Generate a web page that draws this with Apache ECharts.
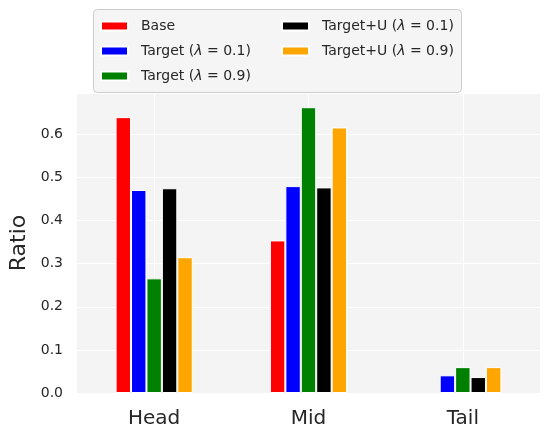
<!DOCTYPE html>
<html>
<head>
<meta charset="utf-8">
<script src="https://cdn.jsdelivr.net/npm/echarts@6/dist/echarts.min.js"></script>
<style>
  html, body { margin: 0; padding: 0; background: #fff; }
  #main { width: 557px; height: 437px; }
</style>
</head>
<body>
<div id="main"></div>
<script>
const categories = ['Head', 'Mid', 'Tail']
const seriesNames = ['Base', 'Target (λ = 0.1)', 'Target (λ = 0.9)', 'Target+U (λ = 0.1)', 'Target+U (λ = 0.9)']
const colors = ['#ff0000', '#0000ff', '#008000', '#000000', '#ffa500']
const base = [0.640, 0.354, null]
const target01 = [0.471, 0.480, 0.041]
const target09 = [0.266, 0.663, 0.060]
const targetU01 = [0.475, 0.477, 0.037]
const targetU09 = [0.315, 0.616, 0.060]
const seriesValues = [base, target01, target09, targetU01, targetU09]

const font = 'DejaVu Sans'
const chart = echarts.init(document.getElementById('main'))

// legend text with italic lambda, like the mathtext in the original
function legendLabel(name) {
  const i = name.indexOf('λ')
  if (i < 0) return '{n|' + name + '}'
  return '{n|' + name.slice(0, i) + '}{l|λ}{n|' + name.slice(i + 1) + '}'
}

// two columns of the legend, filled top to bottom
function legendColumn(left, names) {
  return {
    orient: 'vertical',
    left: left,
    top: 19,
    padding: 0,
    itemGap: 11,
    itemWidth: 27,
    itemHeight: 9,
    icon: 'rect',
    data: names,
    formatter: legendLabel,
    textStyle: {
      padding: [0, 0, 0, 8],
      rich: {
        n: { fontFamily: font, fontSize: 14, color: '#262626' },
        l: { fontFamily: font, fontSize: 14, color: '#262626', fontStyle: 'italic' }
      }
    }
  }
}

chart.setOption({
  backgroundColor: '#fff',
  textStyle: { fontFamily: font },
  graphic: [{
    type: 'rect',
    left: 93,
    top: 9,
    z: -1,
    shape: { width: 368, height: 83, r: 4 },
    style: { fill: '#f5f5f5', stroke: '#cccccc', lineWidth: 1 }
  }],
  legend: [
    legendColumn(100, seriesNames.slice(0, 3)),
    legendColumn(281, seriesNames.slice(3))
  ],
  grid: {
    left: 77,
    right: 17,
    top: 93,
    bottom: 44,
    outerBoundsMode: 'none',
    containLabel: false,
    show: true,
    backgroundColor: '#f4f4f4',
    borderWidth: 0
  },
  xAxis: {
    type: 'category',
    data: categories,
    axisLine: { show: false },
    axisTick: { show: false, alignWithLabel: true },
    splitLine: { show: true, alignWithLabel: true, lineStyle: { color: '#ffffff', width: 1 } },
    axisLabel: { fontSize: 20, color: '#262626', margin: 16 }
  },
  yAxis: {
    type: 'value',
    min: 0,
    max: 0.696,
    interval: 0.1,
    name: 'Ratio',
    nameLocation: 'middle',
    nameGap: 46,
    nameTextStyle: { fontSize: 22, color: '#262626' },
    axisLine: { show: false },
    axisTick: { show: false },
    splitLine: { lineStyle: { color: '#ffffff', width: 1 } },
    axisLabel: {
      fontSize: 14,
      color: '#262626',
      margin: 14,
      showMaxLabel: false,
      formatter: v => v.toFixed(1)
    }
  },
  series: seriesNames.map((name, i) => ({
    name: name,
    type: 'bar',
    data: seriesValues[i],
    barCategoryGap: '50%',
    barGap: '0%',
    itemStyle: { color: colors[i], borderColor: '#ffffff', borderWidth: 1 }
  }))
})
</script>
</body>
</html>
